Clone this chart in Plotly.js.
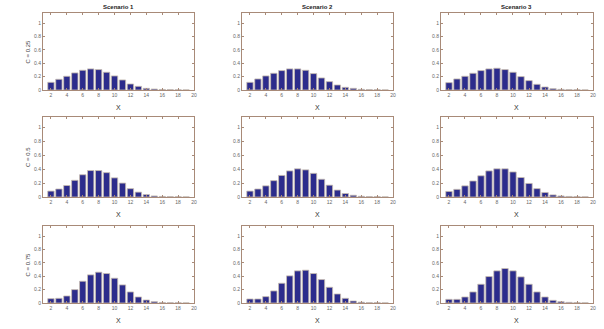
<!DOCTYPE html>
<html>
<head>
<meta charset="utf-8">
<script src="https://cdn.plot.ly/plotly-3.0.1.min.js"></script>
<style>
  html, body { margin: 0; padding: 0; background: #fff; }
  #chart { width: 604px; height: 329px; }
</style>
</head>
<body>
<div id="chart"></div>
<script>
// x values shared by every panel
const xs = [2, 3, 4, 5, 6, 7, 8, 9, 10, 11, 12, 13, 14, 15, 16, 17, 18, 19];

const scenarios = ["Scenario 1", "Scenario 2", "Scenario 3"];
const rowLabels = ["C = 0.25", "C = 0.5", "C = 0.75"];

// C = 0.25
const s1_c25 = [0.115, 0.16, 0.205, 0.255, 0.295, 0.315, 0.305, 0.265, 0.21, 0.15, 0.09, 0.055, 0.025, 0.015, 0.008, 0.005, 0.004, 0.002];
const s2_c25 = [0.115, 0.165, 0.21, 0.25, 0.29, 0.315, 0.315, 0.295, 0.245, 0.18, 0.125, 0.075, 0.04, 0.025, 0.01, 0.006, 0.005, 0.002];
const s3_c25 = [0.11, 0.165, 0.205, 0.25, 0.29, 0.315, 0.325, 0.305, 0.265, 0.2, 0.14, 0.085, 0.045, 0.02, 0.01, 0.006, 0.005, 0.002];
// C = 0.5
const s1_c50 = [0.085, 0.115, 0.165, 0.24, 0.32, 0.38, 0.38, 0.35, 0.275, 0.2, 0.12, 0.07, 0.035, 0.015, 0.008, 0.005, 0.004, 0.002];
const s2_c50 = [0.085, 0.115, 0.16, 0.235, 0.31, 0.375, 0.405, 0.39, 0.34, 0.255, 0.17, 0.1, 0.05, 0.025, 0.01, 0.006, 0.005, 0.002];
const s3_c50 = [0.08, 0.11, 0.16, 0.23, 0.305, 0.375, 0.405, 0.405, 0.36, 0.28, 0.195, 0.12, 0.065, 0.03, 0.015, 0.008, 0.006, 0.003];
// C = 0.75
const s1_c75 = [0.065, 0.07, 0.105, 0.2, 0.325, 0.42, 0.46, 0.44, 0.37, 0.27, 0.165, 0.09, 0.045, 0.02, 0.008, 0.005, 0.004, 0.002];
const s2_c75 = [0.06, 0.06, 0.095, 0.18, 0.295, 0.405, 0.48, 0.49, 0.44, 0.35, 0.235, 0.135, 0.07, 0.03, 0.012, 0.006, 0.005, 0.002];
const s3_c75 = [0.055, 0.055, 0.09, 0.165, 0.28, 0.395, 0.48, 0.515, 0.48, 0.39, 0.28, 0.165, 0.09, 0.04, 0.02, 0.01, 0.007, 0.003];

const grid = [
  [s1_c25, s2_c25, s3_c25],
  [s1_c50, s2_c50, s3_c50],
  [s1_c75, s2_c75, s3_c75]
];

const xTicks = [2, 4, 6, 8, 10, 12, 14, 16, 18, 20];
const yTicks = [0, 0.2, 0.4, 0.6, 0.8, 1];

// panel placement (paper fractions)
const colDom = [[0.0712, 0.3212], [0.4007, 0.6507], [0.7301, 0.9818]];
const rowDom = [[0.7264, 0.9605], [0.4012, 0.6444], [0.0790, 0.3131]];

const boxColor = "#a88a78";
const tickFont = { family: "Liberation Sans, Arial, sans-serif", size: 5, color: "#666" };

const traces = [];
const layout = {
  width: 604, height: 329,
  margin: { l: 0, r: 0, t: 0, b: 0 },
  paper_bgcolor: "#fff",
  plot_bgcolor: "#fff",
  showlegend: false,
  annotations: []
};

let n = 0;
for (let r = 0; r < 3; r++) {
  for (let c = 0; c < 3; c++) {
    n++;
    const sfx = n === 1 ? "" : String(n);
    traces.push({
      type: "bar",
      x: xs, y: grid[r][c],
      xaxis: "x" + sfx, yaxis: "y" + sfx,
      width: 0.8,
      marker: { color: "#2c2c8c", line: { color: "#c8bcb0", width: 0.8 } },
      hoverinfo: "x+y"
    });
    layout["xaxis" + sfx] = {
      domain: colDom[c], range: [1, 20], anchor: "y" + sfx,
      tickvals: xTicks, ticks: "inside", ticklen: 2, tickcolor: boxColor,
      tickfont: tickFont, showgrid: false, zeroline: false,
      showline: true, linecolor: boxColor, linewidth: 1, mirror: "ticks"
    };
    layout["yaxis" + sfx] = {
      domain: rowDom[r], range: [0, 1.15], anchor: "x" + sfx,
      tickvals: yTicks, ticktext: ["0", "0.2", "0.4", "0.6", "0.8", "1"],
      ticks: "inside", ticklen: 2, tickcolor: boxColor,
      tickfont: tickFont, showgrid: false, zeroline: false,
      showline: true, linecolor: boxColor, linewidth: 1, mirror: "ticks"
    };

    // x label under each panel
    layout.annotations.push({
      text: "X", xref: "x" + sfx + " domain", yref: "y" + sfx + " domain",
      x: 0.5, y: 0, xanchor: "center", yanchor: "middle", yshift: -17, showarrow: false,
      font: { family: "Liberation Sans, Arial, sans-serif", size: 7, color: "#333" }
    });

    if (r === 0) {
      layout.annotations.push({
        text: "<b>" + scenarios[c] + "</b>", xref: "x" + sfx + " domain", yref: "y" + sfx + " domain",
        x: 0.5, y: 1, xanchor: "center", yanchor: "middle", yshift: 6, showarrow: false,
        font: { family: "Liberation Sans, Arial, sans-serif", size: 6, color: "#222" }
      });
    }
    if (c === 0) {
      layout.annotations.push({
        text: rowLabels[r], xref: "paper", yref: "y" + sfx + " domain",
        x: 28 / 604, y: 0.5, xanchor: "center", yanchor: "middle", textangle: -90, showarrow: false,
        font: { family: "Liberation Sans, Arial, sans-serif", size: 6, color: "#444" }
      });
    }
  }
}

Plotly.newPlot("chart", traces, layout, { displayModeBar: false, staticPlot: true });
</script>
</body>
</html>
